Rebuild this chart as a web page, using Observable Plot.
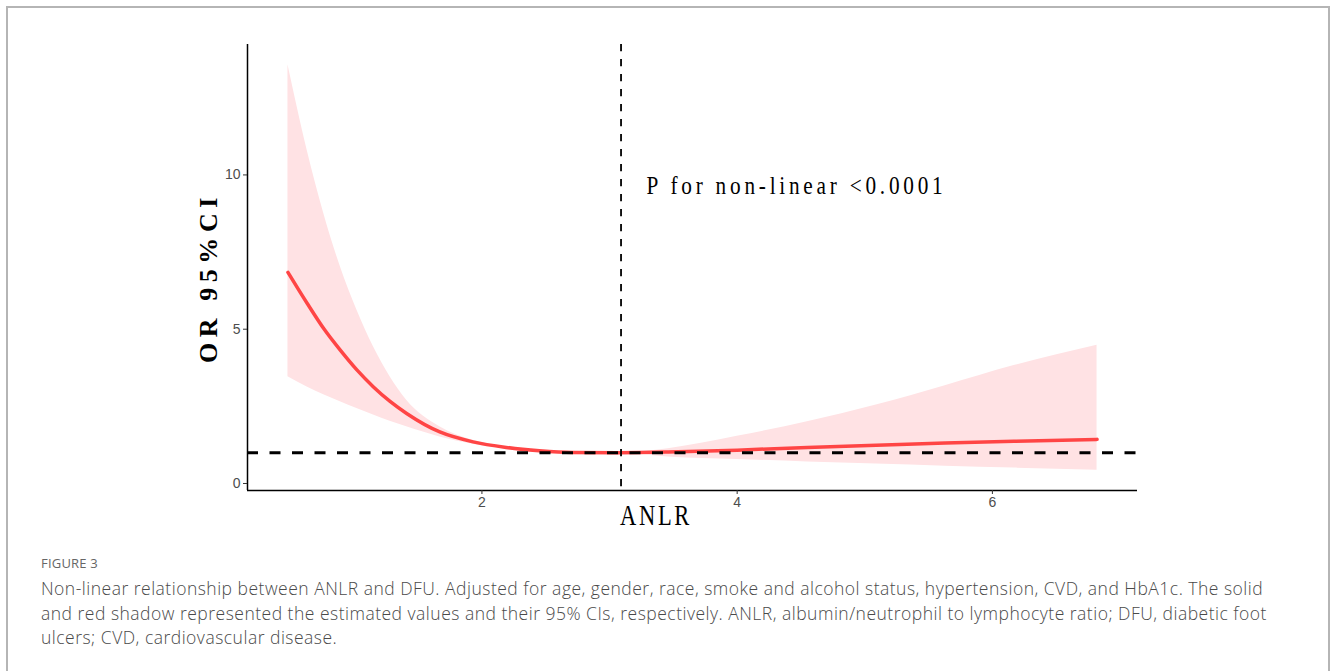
<!DOCTYPE html>
<html>
<head>
<meta charset="utf-8">
<script src="https://cdn.jsdelivr.net/npm/d3@7"></script>
<script src="https://cdn.jsdelivr.net/npm/@observablehq/plot@0.6"></script>
<style>
  html, body { margin: 0; padding: 0; background: #fff; }
  #wrap { position: relative; width: 1330px; height: 671px; overflow: hidden; }
  #chart { position: absolute; left: 0; top: 0; }
  #box { position: absolute; left: 6px; top: 6px; width: 1324px; height: 720px; box-sizing: border-box;
         border: 2px solid #b5b5b5; pointer-events: none; }
  #cap { position: absolute; left: 41px; top: 555px; font-family: "Open Sans", "Lato", sans-serif; color: #4a4a4a; }
  #cap .fig { font-size: 13px; line-height: 16px; color: #666; letter-spacing: 0.2px; }
  #cap .txt { margin-top: 5px; font-size: 17.5px; line-height: 24.5px; font-weight: 300; white-space: nowrap; }
  #cap .txt span { display: block; }
  svg g[aria-label*="tick label"] text { font-size: 14px !important; }
</style>
</head>
<body>
<div id="wrap">
  <div id="chart"></div>
  <div id="box"></div>
  <div id="cap">
    <div class="fig">FIGURE 3</div>
    <div class="txt"><span id="l1">Non-linear relationship between ANLR and DFU. Adjusted for age, gender, race, smoke and alcohol status, hypertension, CVD, and HbA1c. The solid</span><span>and red shadow represented the estimated values and their 95% CIs, respectively. ANLR, albumin/neutrophil to lymphocyte ratio; DFU, diabetic foot</span><span>ulcers; CVD, cardiovascular disease.</span></div>
  </div>
</div>
<script>
// ---- data ----
const anlr  = [0.48, 0.63, 0.76, 0.89, 1.02, 1.15, 1.28, 1.41, 1.67, 1.93, 2.19, 2.45, 2.71, 3.08, 3.46, 4.00, 4.55, 5.09, 5.63, 6.17, 6.82];
const orFit = [6.84, 5.84, 5.02, 4.32, 3.68, 3.13, 2.66, 2.27, 1.67, 1.35, 1.17, 1.06, 1.005, 1.00, 1.02, 1.08, 1.17, 1.24, 1.31, 1.37, 1.43];
const orLow = [3.46, 3.13, 2.88, 2.65, 2.43, 2.22, 2.02, 1.84, 1.51, 1.27, 1.12, 1.02, 0.98, 1.00, 0.86, 0.78, 0.70, 0.63, 0.56, 0.50, 0.43];
const orUp  = [13.57, 10.81, 8.76, 7.03, 5.62, 4.43, 3.46, 2.70, 1.84, 1.40, 1.19, 1.08, 1.03, 1.00, 1.13, 1.53, 2.00, 2.54, 3.17, 3.82, 4.48];
const refOR = 1;            // horizontal reference line
const refANLR = 3.09;       // vertical reference line
const xTicks = [2, 4, 6];
const yTicks = [0, 5, 10];
const pLabel = "P for non-linear <0.0001";
const pLabelAt = {x: 3.29, y: 9.64};
const xTitle = "ANLR";
const yTitle = "OR 95%CI";

const rows = anlr.map((x, i) => ({x, fit: orFit[i], lo: orLow[i], up: orUp[i]}));

// ggplot-like 5% expansion
function expand(vals) {
  const [a, b] = d3.extent(vals); const d = (b - a) * 0.05; return [a - d, b + d];
}
const xDom = expand(anlr);
const yDom = expand([...orLow, ...orUp, refOR]);
const serif = "'Liberation Serif', 'Times New Roman', serif";

const plot = Plot.plot({
  width: 1330, height: 548,
  marginLeft: 247, marginRight: 193, marginTop: 44, marginBottom: 58,
  style: {fontFamily: "'Liberation Sans', Arial, sans-serif", fontSize: "14px", background: "transparent", overflow: "visible"},
  x: {domain: xDom},
  y: {domain: yDom},
  marks: [
    Plot.areaY(rows, {x: "x", y1: "lo", y2: "up", fill: "#ffe2e4", curve: "monotone-x"}),
    Plot.line(rows, {x: "x", y: "fit", stroke: "#ff4545", strokeWidth: 3.5, curve: "monotone-x"}),
    Plot.ruleX([refANLR], {stroke: "#000", strokeWidth: 1.8, strokeDasharray: "7.3,7.7"}),
    Plot.ruleY([refOR], {stroke: "#000", strokeWidth: 3, strokeDasharray: "11,11.5"}),
    Plot.ruleY([yDom[0]], {stroke: "#000", strokeWidth: 1.5}),
    Plot.ruleX([xDom[0]], {stroke: "#000", strokeWidth: 1.5}),
    Plot.axisX({ticks: xTicks, tickFormat: d => String(d), tickSize: 4, tickPadding: 3, stroke: "#333", fill: "#4d4d4d", label: null, fontSize: 14}),
    Plot.axisY({ticks: yTicks, tickFormat: d => String(d), tickSize: 4, tickPadding: 3, stroke: "#333", fill: "#4d4d4d", label: null, fontSize: 14}),
    Plot.text([pLabel], {x: () => pLabelAt.x, y: () => pLabelAt.y, text: d => d, textAnchor: "start",
      fontFamily: serif, fontSize: 25, fill: "#000"}),
    Plot.text([xTitle], {frameAnchor: "bottom", text: d => d, dx: -36.5, dy: 34,
      fontFamily: serif, fontSize: 30, fill: "#000"}),
    Plot.text([yTitle], {frameAnchor: "left", text: d => d, rotate: -90,
      fontFamily: serif, fontSize: 26, fontWeight: "bold", fill: "#000"})
  ]
});
document.getElementById("chart").appendChild(plot);

const svgEl = plot.tagName.toLowerCase() === "svg" ? plot : plot.querySelector("svg");
const svg = d3.select(svgEl);
const tickTexts = new Set([...xTicks, ...yTicks].map(String));

// condensed serif look of the original: horizontal squeeze about the anchor + letter spacing to target width
function condense(textEl, sx, targetW) {
  const ax = +textEl.getAttribute("x") || 0, ay = +textEl.getAttribute("y") || 0;
  const n = textEl.textContent.length;
  const w0 = textEl.getComputedTextLength();
  const ls = (targetW / sx - w0) / n;
  textEl.setAttribute("letter-spacing", ls.toFixed(2));
  const prev = textEl.getAttribute("transform") || "";
  textEl.setAttribute("transform", `${prev} translate(${ax},${ay}) scale(${sx},1) translate(${-ax},${-ay})`);
}
// move an element so its box centre lands at (cx, cy) in svg pixels
function centreAt(el, cx, cy) {
  const r = el.getBoundingClientRect(), s = svgEl.getBoundingClientRect();
  const dx = cx - (r.left - s.left + r.width / 2), dy = cy - (r.top - s.top + r.height / 2);
  const prev = el.getAttribute("transform") || "";
  el.setAttribute("transform", `translate(${dx},${dy}) ${prev}`);
}
svg.selectAll("text").each(function () {
  const t = this.textContent.trim();
  if (tickTexts.has(t)) { this.setAttribute("font-size", 14); this.style.setProperty("font-size", "14px", "important"); }
  else if (t === pLabel) condense(this, 0.85, 300);
  else if (t === xTitle) condense(this, 0.75, 72);
  else if (t === yTitle) {
    const w0 = this.getComputedTextLength();
    this.setAttribute("letter-spacing", ((171 - w0) / t.length).toFixed(2));
    centreAt(this, 208, 277.5);
  }
});

// caption: spread to the measured width of the original lines
const l1 = document.getElementById("l1");
const natural = l1.getBoundingClientRect().width;
const extra = (1225 - natural) / l1.textContent.length;
document.querySelector("#cap .txt").style.letterSpacing = extra.toFixed(3) + "px";
</script>
</body>
</html>
